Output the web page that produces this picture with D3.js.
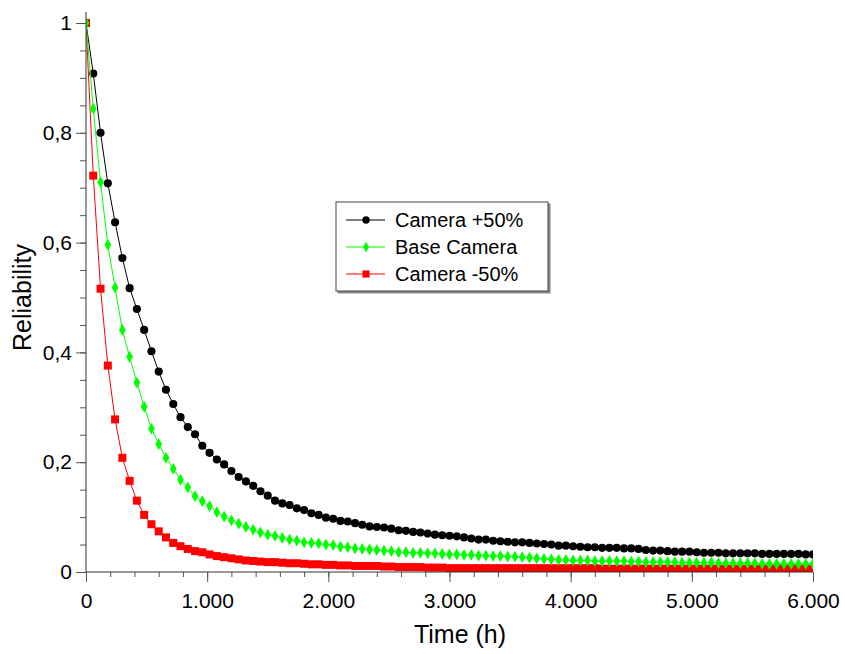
<!DOCTYPE html>
<html>
<head>
<meta charset="utf-8">
<script src="https://cdn.jsdelivr.net/npm/d3@7"></script>
<style>
  body { margin: 0; background: #fff; }
  svg { display: block; font-family: "Liberation Sans", Arial, sans-serif; }
</style>
</head>
<body>
<svg id="chart"></svg>
<script>
// reliability curves, one sample every 60 h
const timeStep = 60;
const seriesNames = ["Camera +50%", "Base Camera", "Camera -50%"];

const cameraPlus = [
  1.000, 0.908, 0.800, 0.708, 0.637, 0.572, 0.517, 0.479, 0.441, 0.402,
  0.365, 0.332, 0.306, 0.282, 0.264, 0.251, 0.230, 0.217, 0.205, 0.196,
  0.184, 0.173, 0.165, 0.157, 0.147, 0.139, 0.130, 0.125, 0.122, 0.116,
  0.113, 0.107, 0.104, 0.099, 0.097, 0.093, 0.092, 0.089, 0.086, 0.083,
  0.082, 0.081, 0.079, 0.076, 0.075, 0.073, 0.072, 0.070, 0.068, 0.067,
  0.066, 0.065, 0.063, 0.061, 0.059, 0.059, 0.057, 0.056, 0.055, 0.054,
  0.054, 0.053, 0.052, 0.051, 0.050, 0.048, 0.048, 0.047, 0.046, 0.045,
  0.045, 0.044, 0.044, 0.044, 0.043, 0.043, 0.042, 0.040, 0.039, 0.039,
  0.038, 0.037, 0.037, 0.037, 0.036, 0.035, 0.035, 0.035, 0.034, 0.034,
  0.034, 0.034, 0.034, 0.033, 0.033, 0.033, 0.033, 0.033, 0.033, 0.032,
  0.032
];

const cameraBase = [
  1.000, 0.844, 0.710, 0.596, 0.518, 0.441, 0.392, 0.345, 0.301, 0.261,
  0.233, 0.208, 0.188, 0.168, 0.154, 0.138, 0.129, 0.120, 0.109, 0.101,
  0.094, 0.088, 0.082, 0.077, 0.072, 0.068, 0.066, 0.062, 0.059, 0.057,
  0.054, 0.053, 0.052, 0.050, 0.049, 0.046, 0.045, 0.043, 0.042, 0.041,
  0.040, 0.039, 0.038, 0.036, 0.036, 0.035, 0.035, 0.034, 0.034, 0.033,
  0.032, 0.032, 0.031, 0.031, 0.030, 0.030, 0.029, 0.029, 0.028, 0.028,
  0.027, 0.026, 0.025, 0.024, 0.023, 0.022, 0.022, 0.021, 0.021, 0.021,
  0.020, 0.020, 0.020, 0.020, 0.020, 0.019, 0.019, 0.018, 0.018, 0.018,
  0.018, 0.018, 0.017, 0.017, 0.017, 0.017, 0.017, 0.016, 0.016, 0.016,
  0.016, 0.016, 0.016, 0.015, 0.015, 0.015, 0.015, 0.015, 0.015, 0.015,
  0.015
];

const cameraMinus = [
  1.000, 0.722, 0.516, 0.376, 0.278, 0.208, 0.166, 0.130, 0.104, 0.087,
  0.074, 0.063, 0.053, 0.047, 0.042, 0.038, 0.036, 0.032, 0.029, 0.027,
  0.025, 0.023, 0.021, 0.020, 0.019, 0.018, 0.018, 0.017, 0.016, 0.016,
  0.015, 0.014, 0.014, 0.013, 0.013, 0.012, 0.012, 0.011, 0.011, 0.011,
  0.011, 0.010, 0.010, 0.009, 0.009, 0.009, 0.009, 0.008, 0.008, 0.008,
  0.007, 0.007, 0.007, 0.007, 0.007, 0.007, 0.007, 0.007, 0.007, 0.007,
  0.007, 0.007, 0.007, 0.007, 0.007, 0.007, 0.007, 0.007, 0.007, 0.007,
  0.007, 0.006, 0.006, 0.006, 0.006, 0.006, 0.006, 0.006, 0.006, 0.006,
  0.006, 0.006, 0.006, 0.006, 0.006, 0.006, 0.006, 0.006, 0.006, 0.006,
  0.006, 0.006, 0.006, 0.006, 0.006, 0.006, 0.006, 0.006, 0.006, 0.006,
  0.006
];

const xTicks = [0, 1000, 2000, 3000, 4000, 5000, 6000];
const xTickLabels = ["0", "1.000", "2.000", "3.000", "4.000", "5.000", "6.000"];
const yTicks = [0, 0.2, 0.4, 0.6, 0.8, 1];
const yTickLabels = ["0", "0,2", "0,4", "0,6", "0,8", "1"];

const width = 845, height = 654;
const plotLeft = 86, plotRight = 813, plotTop = 23, plotBottom = 572;

const svg = d3.select("#chart").attr("width", width).attr("height", height);

const x = d3.scaleLinear().domain([0, 6000]).range([plotLeft, plotRight]);
const y = d3.scaleLinear().domain([0, 1]).range([plotBottom, plotTop]);

// series styles (drawn black, red, green so the green diamond sits on top at t=0)
const series = [
  { name: seriesNames[0], values: cameraPlus, color: "#000000", symbol: d3.symbolCircle, size: 52 },
  { name: seriesNames[2], values: cameraMinus, color: "#ff0000", symbol: d3.symbolSquare, size: 64 },
  { name: seriesNames[1], values: cameraBase, color: "#00ff00", symbol: d3.symbolDiamond, size: 40 }
];

svg.append("clipPath").attr("id", "plot-clip")
  .append("rect")
  .attr("x", plotLeft).attr("y", 0)
  .attr("width", plotRight - plotLeft).attr("height", plotBottom);

const plot = svg.append("g").attr("clip-path", "url(#plot-clip)");

const line = d3.line()
  .x((d, i) => x(i * timeStep))
  .y(d => y(d));

series.forEach(s => {
  const g = plot.append("g");
  g.append("path")
    .datum(s.values)
    .attr("fill", "none")
    .attr("stroke", s.color)
    .attr("stroke-width", 1)
    .attr("d", line);
  g.selectAll("path.mk")
    .data(s.values)
    .enter()
    .append("path")
    .attr("class", "mk")
    .attr("fill", s.color)
    .attr("transform", (d, i) => `translate(${x(i * timeStep)},${y(d)})`)
    .attr("d", d3.symbol().type(s.symbol).size(s.size));
});

// axes
const axisColor = "#333";

const yMinor = svg.append("g")
  .attr("transform", `translate(${plotLeft},0)`)
  .call(d3.axisLeft(y).ticks(20).tickSize(6).tickFormat(""));
yMinor.select(".domain").remove();

const yAxis = svg.append("g")
  .attr("transform", `translate(${plotLeft},0)`)
  .call(d3.axisLeft(y).tickValues(yTicks).tickSize(10).tickPadding(4)
    .tickFormat((d, i) => yTickLabels[i]));
yAxis.select(".domain").attr("d", `M0,12V${plotBottom}`);

const xMinor = svg.append("g")
  .attr("transform", `translate(0,${plotBottom})`)
  .call(d3.axisBottom(x).ticks(30).tickSize(5).tickFormat(""));
xMinor.select(".domain").remove();

const xAxis = svg.append("g")
  .attr("transform", `translate(0,${plotBottom})`)
  .call(d3.axisBottom(x).tickValues(xTicks).tickSize(10).tickPadding(11)
    .tickFormat((d, i) => xTickLabels[i]));
xAxis.select(".domain").attr("d", `M${plotLeft},0H${plotRight}`);

[yMinor, yAxis, xMinor, xAxis].forEach(g => {
  g.attr("font-family", null).attr("font-size", null);
  g.selectAll("line").attr("stroke", "#555");
  g.selectAll(".domain").attr("stroke", axisColor);
  g.selectAll("text").attr("fill", "#000").attr("font-size", 21);
});

// axis titles
svg.append("text")
  .attr("x", 460).attr("y", 643)
  .attr("text-anchor", "middle")
  .attr("font-size", 25)
  .text("Time (h)");

svg.append("text")
  .attr("transform", `translate(31,${(plotTop + plotBottom) / 2}) rotate(-90)`)
  .attr("text-anchor", "middle")
  .attr("font-size", 25)
  .text("Reliability");

// legend
const legend = svg.append("g").attr("transform", "translate(336,202)");
legend.append("rect")
  .attr("x", 1.5).attr("y", 1.5).attr("width", 213).attr("height", 90)
  .attr("fill", "#888");
legend.append("rect")
  .attr("x", 0).attr("y", 0).attr("width", 212).attr("height", 89)
  .attr("fill", "#fff").attr("stroke", "#444").attr("stroke-width", 1);

const legendItems = [series[0], series[2], series[1]];
legendItems.forEach((s, i) => {
  const ly = 18 + i * 27;
  legend.append("line")
    .attr("x1", 10).attr("x2", 49).attr("y1", ly).attr("y2", ly)
    .attr("stroke", s.color).attr("stroke-width", 1);
  legend.append("path")
    .attr("transform", `translate(30,${ly})`)
    .attr("fill", s.color)
    .attr("d", d3.symbol().type(s.symbol).size(s.size * 0.8));
  legend.append("text")
    .attr("x", 59).attr("y", ly)
    .attr("dy", "0.36em")
    .attr("font-size", 20)
    .text(s.name);
});
</script>
</body>
</html>
